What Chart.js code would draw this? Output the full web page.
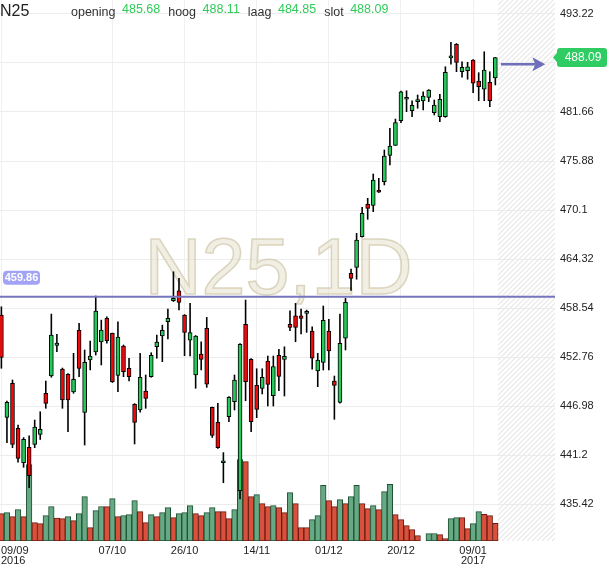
<!DOCTYPE html>
<html>
<head>
<meta charset="utf-8">
<script src="https://cdn.jsdelivr.net/npm/chart.js@4.4.0/dist/chart.umd.min.js"></script>
<style>
  html, body { margin: 0; padding: 0; background: #fff; }
  #wrap { width: 610px; height: 568px; }
</style>
</head>
<body>
<div id="wrap"><canvas id="chart"></canvas></div>
<script>
const symbol = 'N25';
const watermark = 'N25,1D';

const dates = [
  '09/09', '12/09', '13/09', '14/09', '15/09', '16/09', '19/09', '20/09', '21/09', '22/09',
  '23/09', '26/09', '27/09', '28/09', '29/09', '30/09', '03/10', '04/10', '05/10', '06/10',
  '07/10', '10/10', '11/10', '12/10', '13/10', '14/10', '17/10', '18/10', '19/10', '20/10',
  '21/10', '24/10', '25/10', '26/10', '27/10', '28/10', '31/10', '01/11', '02/11', '03/11',
  '04/11', '07/11', '08/11', '09/11', '10/11', '11/11', '14/11', '15/11', '16/11', '17/11',
  '18/11', '21/11', '22/11', '23/11', '24/11', '25/11', '28/11', '29/11', '30/11', '01/12',
  '02/12', '05/12', '06/12', '07/12', '08/12', '09/12', '12/12', '13/12', '14/12', '15/12',
  '16/12', '19/12', '20/12', '21/12', '22/12', '23/12', '27/12', '28/12', '29/12', '30/12',
  '02/01', '03/01', '04/01', '05/01', '06/01', '09/01', '10/01', '11/01', '12/01', '13/01'
];

const open = [
  457.71, 445.65, 449.66, 444.35, 440.31, 442.11, 442.46, 443.64, 448.48, 450.52,
  454.14, 451.34, 450.72, 448.63, 455.91, 446.24, 452.41, 453.35, 454.53, 457.32,
  455.55, 450.60, 454.06, 451.43, 447.18, 446.51, 448.75, 450.44, 453.97, 455.24,
  456.92, 459.40, 460.58, 457.71, 454.76, 450.64, 453.11, 456.14, 446.83, 445.06,
  440.29, 445.72, 447.49, 436.99, 456.62, 452.49, 449.42, 449.07, 452.29, 448.19,
  452.96, 452.49, 456.62, 457.63, 457.63, 457.91, 455.83, 451.11, 452.13, 455.83,
  449.93, 447.42, 454.97, 462.63, 463.34, 466.95, 470.77, 470.65, 472.46, 473.44,
  476.55, 477.73, 480.63, 483.16, 481.81, 482.88, 482.96, 483.39, 481.58, 481.11,
  481.11, 488.05, 489.65, 486.41, 486.53, 487.79, 485.32, 484.34, 485.16, 485.68
];
const high = [
  458.69, 447.57, 450.05, 444.74, 443.26, 443.48, 445.33, 446.31, 449.93, 457.83,
  455.44, 451.46, 450.81, 453.20, 456.73, 453.59, 454.65, 459.96, 457.12, 457.51,
  455.59, 456.92, 454.18, 452.61, 447.27, 453.20, 450.64, 453.27, 455.35, 456.53,
  458.42, 462.82, 462.04, 457.77, 459.09, 455.30, 454.56, 457.44, 446.86, 447.30,
  441.49, 448.10, 450.64, 454.35, 459.48, 452.58, 451.38, 451.38, 452.88, 452.88,
  453.67, 453.97, 458.22, 459.09, 458.42, 458.30, 456.33, 453.20, 458.78, 457.21,
  450.52, 457.83, 459.68, 463.14, 467.35, 470.42, 471.48, 474.35, 473.84, 477.18,
  479.74, 480.83, 484.14, 484.17, 482.99, 483.67, 484.05, 484.31, 483.08, 483.75,
  487.00, 489.88, 489.74, 487.59, 487.52, 487.85, 486.30, 488.77, 486.41, 488.11
];
const low = [
  451.43, 442.65, 442.06, 440.34, 439.75, 437.34, 442.06, 443.03, 446.71, 450.37,
  453.38, 446.71, 443.95, 448.48, 450.44, 442.38, 451.23, 452.99, 451.82, 454.38,
  449.75, 448.67, 450.44, 449.93, 442.50, 446.24, 446.71, 450.37, 452.61, 452.21,
  454.88, 459.31, 458.30, 452.91, 452.88, 449.07, 451.23, 449.18, 443.26, 441.97,
  437.93, 445.13, 446.51, 436.01, 447.60, 443.95, 445.60, 448.40, 446.98, 446.98,
  448.78, 448.16, 455.86, 454.56, 455.47, 455.67, 451.31, 449.26, 451.23, 451.23,
  445.41, 447.30, 453.59, 460.60, 461.93, 466.88, 469.00, 469.90, 472.16, 473.05,
  475.41, 477.71, 480.40, 481.70, 481.11, 482.10, 481.90, 482.88, 481.31, 480.52,
  481.03, 487.29, 486.41, 485.75, 485.52, 483.94, 482.99, 482.99, 482.28, 484.85
];
const close = [
  452.72, 447.42, 442.46, 440.81, 443.05, 438.76, 444.50, 444.23, 447.30, 455.35,
  454.41, 447.69, 447.69, 450.13, 451.43, 452.13, 452.88, 458.19, 455.94, 454.68,
  449.85, 455.12, 451.03, 450.44, 445.06, 450.37, 447.89, 452.96, 454.53, 455.91,
  457.32, 459.68, 459.21, 455.67, 455.63, 455.24, 452.49, 449.57, 443.50, 442.08,
  440.29, 448.01, 450.05, 454.26, 449.85, 445.13, 446.59, 450.37, 449.54, 451.62,
  450.48, 452.84, 456.26, 456.26, 457.32, 457.91, 452.61, 452.41, 457.09, 453.47,
  449.42, 454.38, 459.21, 462.04, 466.56, 469.71, 470.30, 473.64, 472.19, 476.47,
  477.65, 480.40, 484.05, 483.16, 482.45, 482.99, 483.55, 484.25, 482.49, 483.16,
  486.34, 488.11, 487.52, 486.93, 487.00, 485.05, 484.64, 486.61, 482.99, 488.09
];
// relative volume (no scale shown on the chart)
const volume = [
  27.4, 28.4, 24.4, 31.4, 24.4, 76.4, 18.4, 17.4, 25.4, 34.4,
  23.0, 22.4, 24.4, 20.4, 27.4, 44.4, 13.4, 30.4, 34.5, 34.3,
  42.4, 24.4, 25.4, 26.4, 40.4, 29.4, 18.4, 26.4, 24.4, 28.4,
  33.4, 23.4, 27.4, 28.4, 35.4, 27.4, 25.4, 28.4, 33.4, 29.4,
  29.3, 22.4, 31.4, 81.4, 79.4, 44.4, 46.4, 37.4, 34.4, 35.4,
  33.4, 28.4, 48.4, 37.4, 13.4, 13.3, 21.4, 25.4, 55.7, 40.4,
  34.4, 41.4, 37.4, 44.4, 55.7, 37.4, 32.4, 35.4, 31.4, 49.4,
  56.7, 26.4, 21.4, 15.4, 11.4, 5.4, null, 7.4, 7.5, 6.4,
  2.4, 22.4, 23.4, 23.3, 12.4, 17.4, 29.4, 26.7, 25.4, 17.7
];

const yTicks = [435.42, 441.2, 446.98, 452.76, 458.54, 464.32, 470.1, 475.88, 481.66, 487.44, 493.22];
const tickDates = ['09/09', '07/10', '26/10', '14/11', '01/12', '20/12', '09/01'];
const tickYears = ['2016', '', '', '', '', '', '2017'];
const levelLine = 459.86;
const arrowLevel = 487.3;

const priceMin = 431.06;
const priceMax = 494.87;
const volMax = 541;
const futureSlots = 10;

const UP = '#24c95a';
const DOWN = '#ee0a0a';
const last = dates.length - 1;
const tickIndex = tickDates.map(d => dates.indexOf(d));

// volume bars are coloured by rise/fall against the previous session's volume
const volUp = volume.map((v, i) => {
  let j = i - 1;
  while (j >= 0 && volume[j] == null) j--;
  return j >= 0 && v > volume[j];
});

function roundRectPath(ctx, x, y, w, h, r) {
  ctx.moveTo(x + r, y);
  ctx.lineTo(x + w - r, y);
  ctx.quadraticCurveTo(x + w, y, x + w, y + r);
  ctx.lineTo(x + w, y + h - r);
  ctx.quadraticCurveTo(x + w, y + h, x + w - r, y + h);
  ctx.lineTo(x + r, y + h);
  ctx.quadraticCurveTo(x, y + h, x, y + h - r);
  ctx.lineTo(x, y + r);
  ctx.quadraticCurveTo(x, y, x + r, y);
}

const decor = {
  id: 'decor',
  beforeDatasetsDraw(chart) {
    const { ctx, chartArea: a, scales: { x } } = chart;
    // hatched zone after the last session
    const hx = x.getPixelForValue(last + 0.5);
    const h = a.bottom - a.top;
    ctx.save();
    ctx.beginPath();
    ctx.rect(hx, a.top, a.right - hx, h);
    ctx.clip();
    ctx.strokeStyle = '#e9e9e9';
    ctx.lineWidth = 1.2;
    for (let s = hx - h; s < a.right; s += 5) {
      ctx.beginPath();
      ctx.moveTo(s, a.bottom);
      ctx.lineTo(s + h, a.top);
      ctx.stroke();
    }
    ctx.restore();

    // watermark
    ctx.save();
    ctx.font = '79px "Liberation Sans", Arial, sans-serif';
    ctx.textAlign = 'center';
    ctx.textBaseline = 'alphabetic';
    const cx = (a.left + a.right) / 2 + 1;
    const cy = a.top + h / 2 + 23.5;
    ctx.fillStyle = 'rgba(228, 222, 200, 0.5)';
    ctx.fillText(watermark, cx, cy);
    ctx.strokeStyle = 'rgba(212, 204, 178, 0.8)';
    ctx.lineWidth = 1.5;
    ctx.strokeText(watermark, cx, cy);
    ctx.restore();
  },
  afterDraw(chart) {
    const { ctx, chartArea: a, scales: { x, y } } = chart;
    ctx.save();

    // horizontal level line with its tag
    const ly = y.getPixelForValue(levelLine);
    ctx.strokeStyle = '#7676bf';
    ctx.lineWidth = 2;
    ctx.beginPath();
    ctx.moveTo(a.left, ly);
    ctx.lineTo(a.right, ly);
    ctx.stroke();
    ctx.fillStyle = '#a3a3f5';
    ctx.beginPath();
    roundRectPath(ctx, 3, ly - 26, 37, 14, 4);
    ctx.fill();
    ctx.fillStyle = '#fff';
    ctx.font = 'bold 11px "Liberation Sans", Arial, sans-serif';
    ctx.textAlign = 'center';
    ctx.textBaseline = 'middle';
    ctx.fillText(levelLine.toFixed(2), 21.5, ly - 18.5);

    // arrow pointing at the price axis
    const ay = y.getPixelForValue(arrowLevel);
    const ax0 = x.getPixelForValue(dates.length);
    const ax1 = x.getPixelForValue(dates.length + 8);
    ctx.strokeStyle = '#6e6eba';
    ctx.fillStyle = '#6e6eba';
    ctx.lineWidth = 2.5;
    ctx.beginPath();
    ctx.moveTo(ax0, ay);
    ctx.lineTo(ax1 - 10, ay);
    ctx.stroke();
    ctx.beginPath();
    ctx.moveTo(ax1, ay);
    ctx.lineTo(ax1 - 13, ay - 7);
    ctx.lineTo(ax1 - 10, ay);
    ctx.lineTo(ax1 - 13, ay + 7);
    ctx.closePath();
    ctx.fill();

    // last price tag
    const py = y.getPixelForValue(close[last]);
    const bx = a.right + 2;
    ctx.fillStyle = '#2ecc62';
    ctx.beginPath();
    roundRectPath(ctx, bx, py - 9.5, 50, 19, 3);
    ctx.fill();
    ctx.beginPath();
    ctx.moveTo(a.right - 2, py);
    ctx.lineTo(bx + 1, py - 6);
    ctx.lineTo(bx + 1, py + 6);
    ctx.closePath();
    ctx.fill();
    ctx.fillStyle = '#fff';
    ctx.font = '12px "Liberation Sans", Arial, sans-serif';
    ctx.textAlign = 'center';
    ctx.fillText(close[last].toFixed(2), bx + 26, py + 0.5);

    // date labels
    ctx.font = '11px "Liberation Sans", Arial, sans-serif';
    ctx.fillStyle = '#222';
    ctx.textAlign = 'left';
    ctx.textBaseline = 'alphabetic';
    tickIndex.forEach((idx, k) => {
      const px = x.getPixelForValue(idx);
      [tickDates[k], tickYears[k]].forEach((t, line) => {
        if (!t) return;
        const w = ctx.measureText(t).width;
        ctx.fillText(t, Math.max(1, px - w / 2), a.bottom + 13 + line * 10);
      });
    });

    // header
    ctx.fillStyle = '#222';
    ctx.font = '16px "Liberation Sans", Arial, sans-serif';
    ctx.fillText(symbol, 0, 16);
    const items = [['opening', open[last]], ['hoog', high[last]], ['laag', low[last]], ['slot', close[last]]];
    let hx = 71;
    ctx.font = '12.5px "Liberation Sans", Arial, sans-serif';
    items.forEach(([name, val]) => {
      ctx.fillStyle = '#333';
      ctx.fillText(name, hx, 16);
      hx += ctx.measureText(name).width + 6.5;
      const t = val.toFixed(2);
      ctx.fillStyle = '#2fcc5a';
      ctx.fillText(t, hx, 13);
      hx += ctx.measureText(t).width + 8;
    });

    ctx.restore();
  }
};

const ctx = document.getElementById('chart').getContext('2d');
new Chart(ctx, {
  type: 'bar',
  data: {
    datasets: [
      {
        label: 'body',
        data: dates.map((d, i) => ({ x: i, y: [open[i], close[i]] })),
        backgroundColor: dates.map((d, i) => close[i] >= open[i] ? UP : DOWN),
        borderColor: '#000',
        borderWidth: 1,
        borderSkipped: false,
        barThickness: 4,
        minBarLength: 2,
        grouped: false,
        order: 1,
        yAxisID: 'y'
      },
      {
        label: 'wick',
        data: dates.map((d, i) => ({ x: i, y: [low[i], high[i]] })),
        backgroundColor: '#000',
        borderWidth: 0,
        barThickness: 1,
        inflateAmount: 0.3,
        grouped: false,
        order: 2,
        yAxisID: 'y'
      },
      {
        label: 'volume',
        data: volume.map((v, i) => ({ x: i, y: v })),
        backgroundColor: volUp.map(u => u ? '#68a985' : '#d9513d'),
        borderColor: volUp.map(u => u ? '#1c5230' : '#6b1b12'),
        borderWidth: 1,
        borderSkipped: false,
        barPercentage: 1,
        categoryPercentage: 1,
        grouped: false,
        order: 3,
        yAxisID: 'yv'
      }
    ]
  },
  options: {
    responsive: true,
    maintainAspectRatio: false,
    animation: false,
    layout: { padding: { left: 0, right: 0, top: 0, bottom: 27 } },
    plugins: {
      legend: { display: false },
      tooltip: { enabled: false },
      title: { display: false }
    },
    scales: {
      x: {
        type: 'linear',
        offset: false,
        min: -0.25,
        max: last + futureSlots + 0.75,
        afterBuildTicks: s => { s.ticks = tickIndex.map(v => ({ value: v })); },
        ticks: { display: false },
        grid: { color: '#f0f0f0', drawTicks: false, offset: false },
        border: { display: false }
      },
      y: {
        position: 'right',
        min: priceMin,
        max: priceMax,
        afterBuildTicks: s => { s.ticks = yTicks.map(v => ({ value: v })); },
        afterFit: s => { s.width = 55; s.paddingTop = 0; s.paddingBottom = 0; },
        ticks: {
          color: '#222',
          font: { family: '"Liberation Sans", Arial, sans-serif', size: 11 },
          padding: 5,
          autoSkip: false,
          callback: v => String(v)
        },
        grid: { color: '#ececec', drawTicks: false },
        border: { display: false }
      },
      yv: {
        display: false,
        min: 0,
        max: volMax
      }
    }
  },
  plugins: [decor]
});
</script>
</body>
</html>
